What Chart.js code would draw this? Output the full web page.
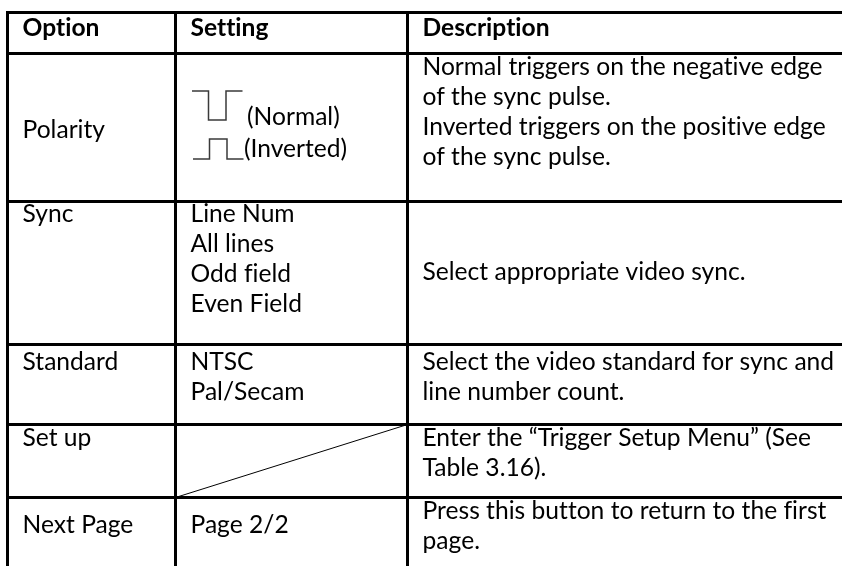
<!DOCTYPE html>
<html>
<head>
<meta charset="utf-8">
<script src="https://cdn.jsdelivr.net/npm/chart.js@4/dist/chart.umd.min.js"></script>
<style>
  html, body { margin: 0; padding: 0; background: #ffffff; }
  #wrap { width: 842px; height: 566px; }
</style>
</head>
<body>
<div id="wrap"><canvas id="c" width="842" height="566"></canvas></div>
<script>
// ---------- content ----------
const headers = ['Option', 'Setting', 'Description'];
const options = ['Polarity', 'Sync', 'Standard', 'Set up', 'Next Page'];
const settings = [
  ['(Normal)', '(Inverted)'],
  ['Line Num', 'All lines', 'Odd field', 'Even Field'],
  ['NTSC', 'Pal/Secam'],
  [],
  ['Page 2/2']
];
const descriptions = [
  ['Normal triggers on the negative edge', 'of the sync pulse.', 'Inverted triggers on the positive edge', 'of the sync pulse.'],
  ['Select appropriate video sync.'],
  ['Select the video standard for sync and', 'line number count.'],
  ['Enter the \u201CTrigger Setup Menu\u201D (See', 'Table 3.16).'],
  ['Press this button to return to the first', 'page.']
];
// pulse shapes for the Polarity settings: level per vertex (1 = high, 0 = low)
const pulseLevels = [
  [1, 1, 0, 0, 1, 1],   // Normal
  [0, 0, 1, 1, 0, 0]    // Inverted
];

// ---------- layout (table units = page pixels) ----------
const colEdges = [7.5, 175.5, 407.5, 860];
const rowEdges = [12.5, 53.5, 201.5, 344.5, 424.5, 497.5, 580];
const PADX = 15;
const LINE = 30;
const rowTopOff = [21, 20, 25, 21, 21];
const valign = [
  [84, null, 't'],
  ['t', 't', 78],
  ['t', 't', 't'],
  ['t', null, 't'],
  [35, 35, 't']
];
const FONT = 'Lato, "Open Sans", sans-serif';
const FIT_TEXT = descriptions[2][0];
const FIT_WIDTH = 411;

// ---------- build line datasets from grid ----------
const datasets = [];
const W = 3;
rowEdges.slice(0, rowEdges.length - 1).forEach(function (y) {
  datasets.push({ data: [{x: colEdges[0] - W / 2, y: y}, {x: colEdges[colEdges.length - 1], y: y}],
    showLine: true, borderColor: '#000', borderWidth: W, pointRadius: 0, clip: false });
});
colEdges.slice(0, colEdges.length - 1).forEach(function (x) {
  datasets.push({ data: [{x: x, y: rowEdges[0] - W / 2}, {x: x, y: rowEdges[rowEdges.length - 1]}],
    showLine: true, borderColor: '#000', borderWidth: W, pointRadius: 0, clip: false });
});
// diagonal in empty "Set up" setting cell
(function () {
  const r = settings.findIndex(function (s) { return s.length === 0; }) + 1;
  datasets.push({ data: [{x: colEdges[1], y: rowEdges[r + 1]}, {x: colEdges[2], y: rowEdges[r]}],
    showLine: true, borderColor: '#000', borderWidth: 1, pointRadius: 0, clip: false });
})();
// pulse symbols
const pulseGeom = [
  {x0: colEdges[1] + 16.5, top: 91, bottom: 120},
  {x0: colEdges[1] + 17.5, top: 139, bottom: 159}
];
const segW = [16.5, 0, 17.5, 0, 16.5];
pulseLevels.forEach(function (lv, k) {
  const g = pulseGeom[k];
  const pts = [];
  let x = g.x0;
  lv.forEach(function (l, i) {
    pts.push({x: x, y: l ? g.top : g.bottom});
    if (i < segW.length) x += segW[i];
  });
  datasets.push({ data: pts, showLine: true, borderColor: '#3a3a3a', borderWidth: 1.5,
    pointRadius: 0, clip: false, borderJoinStyle: 'miter' });
});

// ---------- text plugin ----------
const textPlugin = {
  id: 'tableText',
  beforeDraw: function (chart) {
    const c = chart.ctx;
    c.save();
    c.fillStyle = '#ffffff';
    c.fillRect(0, 0, chart.width, chart.height);
    c.restore();
  },
  afterDatasetsDraw: function (chart) {
    const c = chart.ctx;
    const sx = chart.scales.x, sy = chart.scales.y;
    c.save();
    if ('letterSpacing' in c) c.letterSpacing = '0.01px';
    c.font = '100px ' + FONT;
    const size = Math.round(100 * FIT_WIDTH / c.measureText(FIT_TEXT).width * 10) / 10;
    c.fillStyle = '#000';
    c.textBaseline = 'alphabetic';
    c.textAlign = 'left';
    function put(t, x, y) { c.fillText(t, sx.getPixelForValue(x), sy.getPixelForValue(y)); }
    c.font = 'bold ' + size + 'px ' + FONT;
    headers.forEach(function (h, i) { put(h, colEdges[i] + PADX, rowEdges[0] + 23); });
    c.font = size + 'px ' + FONT;
    for (let r = 0; r < options.length; r++) {
      const top = rowEdges[r + 1];
      const cells = [[options[r]], settings[r], descriptions[r]];
      cells.forEach(function (lines, ci) {
        const va = valign[r][ci];
        if (va === null) return;
        const first = top + (va === 't' ? rowTopOff[r] : va);
        lines.forEach(function (t, li) { put(t, colEdges[ci] + PADX, first + li * LINE); });
      });
    }
    put(settings[0][0], colEdges[1] + 71.5, 125);
    put(settings[0][1], colEdges[1] + 68.5, 157);
    c.restore();
  }
};

new Chart(document.getElementById('c'), {
  type: 'scatter',
  data: { datasets: datasets },
  options: {
    responsive: false,
    animation: false,
    devicePixelRatio: 1,
    layout: { padding: 0 },
    plugins: { legend: { display: false }, tooltip: { enabled: false } },
    scales: {
      x: { type: 'linear', min: 0, max: 842, display: false },
      y: { type: 'linear', min: 0, max: 566, reverse: true, display: false }
    }
  },
  plugins: [textPlugin]
});
</script>
</body>
</html>
